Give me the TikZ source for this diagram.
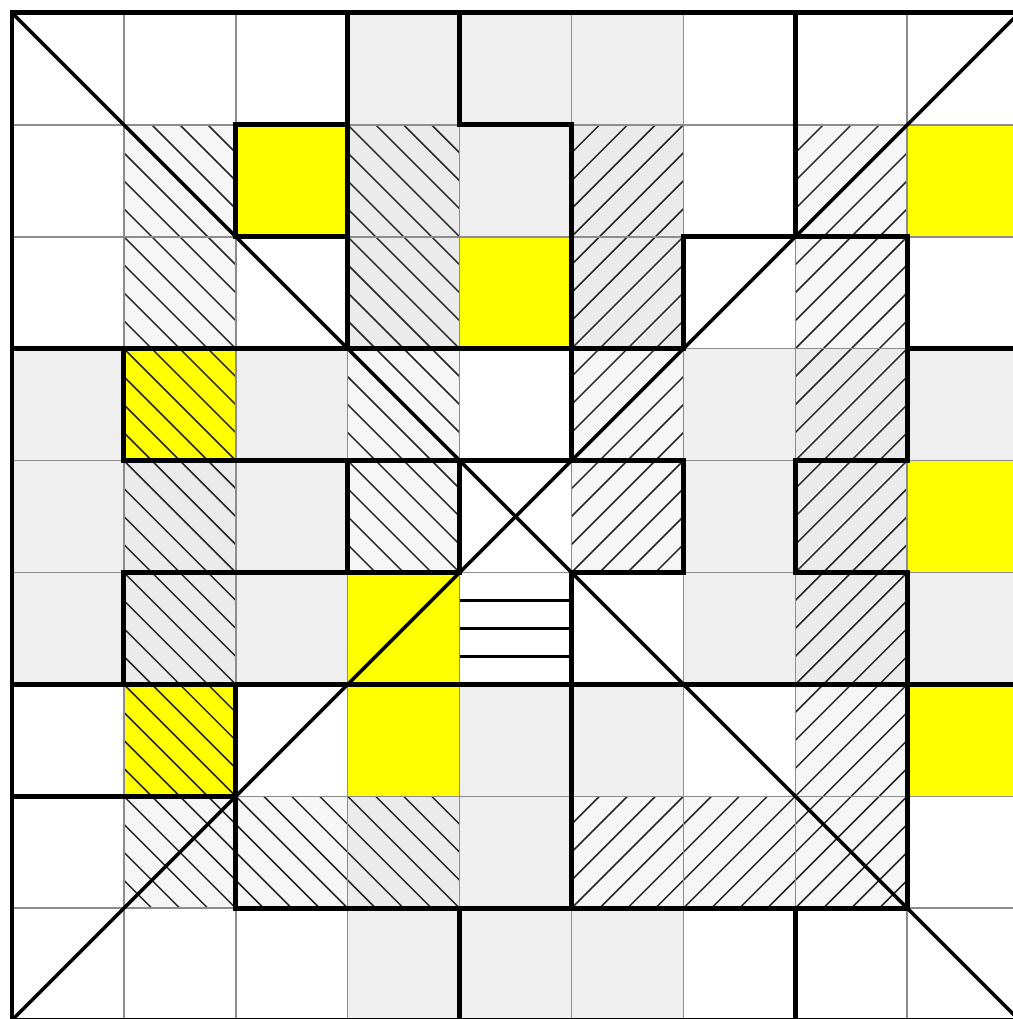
\documentclass[tikz,border=0pt]{standalone}
\definecolor{cellgray}{RGB}{239,239,239}
\definecolor{hlight}{RGB}{246,246,246}
\definecolor{hgray}{RGB}{235,235,235}
\definecolor{cellyellow}{RGB}{255,255,0}
\definecolor{gridgray}{RGB}{140,140,140}
\tikzset{
  thinline/.style={draw=gridgray, line width=0.4pt},
  thickline/.style={draw=black, line width=1.25pt, line cap=rect},
  diagline/.style={draw=black, line width=0.9pt},
  hatchline/.style={draw=black!85, line width=0.38pt},
  stripeline/.style={draw=black, line width=0.55pt},
}
\newcommand{\hatchNW}[2]{%
  \begin{scope}
    \clip (#1,#2) rectangle ++(1,1);
    \foreach \t in {0,0.25,0.5,0.75,1,1.25,1.5,1.75,2} {\draw[hatchline] (#1+\t,#2) -- ++(-1,1);}
  \end{scope}}
\newcommand{\hatchNE}[2]{%
  \begin{scope}
    \clip (#1,#2) rectangle ++(1,1);
    \foreach \t in {-1,-0.75,-0.5,-0.25,0,0.25,0.5,0.75,1} {\draw[hatchline] (#1+\t,#2) -- ++(1,1);}
  \end{scope}}
\begin{document}
\begin{tikzpicture}
\useasboundingbox (-0.107,0.010) rectangle (8.945,9.116);
\clip (-0.107,0.010) rectangle (8.945,9.116);
\fill[white] (-0.2,-0.2) rectangle (9.2,9.2);
% gray cells
\foreach \x/\y in {3/8,4/8,5/8, 4/7, 0/5,2/5,6/5,8/5, 0/4,2/4,6/4, 0/3,2/3,6/3,8/3, 4/2,5/2, 4/1, 3/0,4/0,5/0}
  {\fill[cellgray] (\x,\y) rectangle ++(1,1);}
% yellow cells
\foreach \x/\y in {2/7,8/7, 4/6, 1/5, 8/4, 3/3, 1/2,3/2,8/2}
  {\fill[cellyellow] (\x,\y) rectangle ++(1,1);}
% hatched cell backgrounds
\foreach \x/\y in {1/7,1/6,3/5,3/4,1/1,2/1, 7/7,7/6,5/5,5/4,7/2,5/1,6/1,7/1}
  {\fill[hlight] (\x,\y) rectangle ++(1,1);}
\foreach \x/\y in {3/7,3/6,1/4,1/3,3/1, 5/7,5/6,7/5,7/4,7/3}
  {\fill[hgray] (\x,\y) rectangle ++(1,1);}
% hatching
\foreach \x/\y in {1/7,3/7,1/6,3/6,1/5,3/5,1/4,3/4,1/3,1/2,1/1,2/1,3/1}
  {\hatchNW{\x}{\y}}
\foreach \x/\y in {5/7,7/7,5/6,7/6,5/5,7/5,5/4,7/4,7/3,7/2,5/1,6/1,7/1}
  {\hatchNE{\x}{\y}}
% thin grid
\draw[thinline] (0,0) grid (9,9);
% stripes in the centre-bottom cell
\foreach \s in {3.25,3.5,3.75} {\draw[stripeline] (4,\s) -- (5,\s);}
% thick borders
\draw[thickline] (0,0) rectangle (9,9);
% vertical thick segments
\draw[thickline] (1,6) -- (1,5) (1,4) -- (1,3);
\draw[thickline] (2,8) -- (2,7) (2,3) -- (2,1);
\draw[thickline] (3,9) -- (3,6) (3,5) -- (3,4);
\draw[thickline] (4,9) -- (4,8) (4,5) -- (4,4) (4,1) -- (4,0);
\draw[thickline] (5,8) -- (5,5) (5,4) -- (5,1);
\draw[thickline] (6,7) -- (6,6) (6,5) -- (6,4);
\draw[thickline] (7,9) -- (7,7) (7,5) -- (7,4) (7,1) -- (7,0);
\draw[thickline] (8,7) -- (8,5) (8,4) -- (8,1);
% horizontal thick segments
\draw[thickline] (2,8) -- (3,8) (4,8) -- (5,8);
\draw[thickline] (2,7) -- (3,7) (6,7) -- (8,7);
\draw[thickline] (0,6) -- (6,6) (8,6) -- (9,6);
\draw[thickline] (1,5) -- (6,5) (7,5) -- (8,5);
\draw[thickline] (1,4) -- (4,4) (5,4) -- (6,4) (7,4) -- (8,4);
\draw[thickline] (0,3) -- (9,3);
\draw[thickline] (0,2) -- (2,2);
\draw[thickline] (2,1) -- (8,1);
% diagonals
\draw[diagline] (0,9) -- (9,0);
\draw[diagline] (0,0) -- (9,9);
\end{tikzpicture}
\end{document}
